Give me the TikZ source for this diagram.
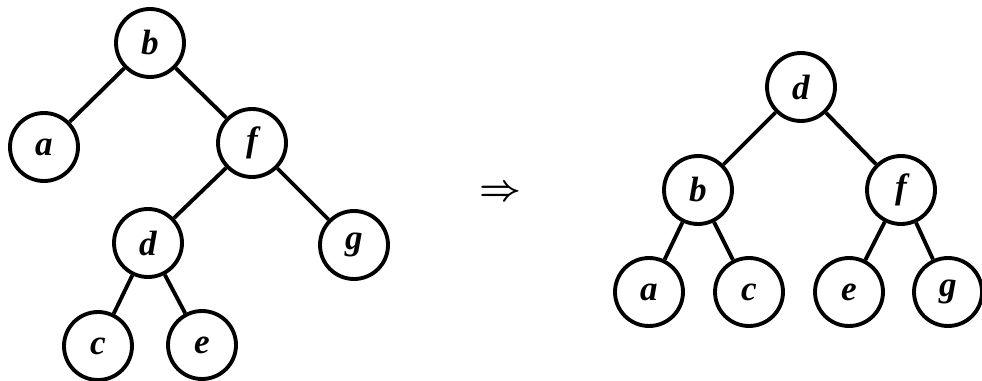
\documentclass[tikz,border=0pt]{standalone}
\usepackage{fontspec}
\usepackage{tikz}
\newfontfamily\letterfont{Liberation Serif}

\begin{document}
\begin{tikzpicture}[
  x=0.02cm, y=-0.02cm,
  vertex/.style={draw, circle, line width=2.2pt, minimum size=1.36cm, inner sep=0pt, font=\letterfont\fontsize{20}{22}\selectfont\bfseries\itshape},
  edge/.style={line width=2.2pt},
]
\useasboundingbox (0,0) rectangle (982,381);

% tree before the rotation
\node[vertex] (lb) at (150,43) {b};
\node[vertex] (la) at (44,147) {a};
\node[vertex] (lf) at (252,143) {f};
\node[vertex] (ld) at (148,243) {d};
\node[vertex] (lg) at (354,245) {g};
\node[vertex] (lc) at (98,346) {c};
\node[vertex] (le) at (202,345) {e};

\draw[edge] (lb) -- (la);
\draw[edge] (lb) -- (lf);
\draw[edge] (lf) -- (ld);
\draw[edge] (lf) -- (lg);
\draw[edge] (ld) -- (lc);
\draw[edge] (ld) -- (le);

\node[font=\fontsize{20}{20}\selectfont\boldmath] (imp) at (500,193) {$\Rightarrow$};

% tree after the rotation
\node[vertex] (rd) at (801,87) {d};
\node[vertex] (rb) at (698,190) {b};
\node[vertex] (rf) at (901,190) {f};
\node[vertex] (ra) at (649,292) {a};
\node[vertex] (rc) at (749,292) {c};
\node[vertex] (re) at (849,292) {e};
\node[vertex] (rg) at (948,292) {g};

\draw[edge] (rd) -- (rb);
\draw[edge] (rd) -- (rf);
\draw[edge] (rb) -- (ra);
\draw[edge] (rb) -- (rc);
\draw[edge] (rf) -- (re);
\draw[edge] (rf) -- (rg);

\end{tikzpicture}
\end{document}
